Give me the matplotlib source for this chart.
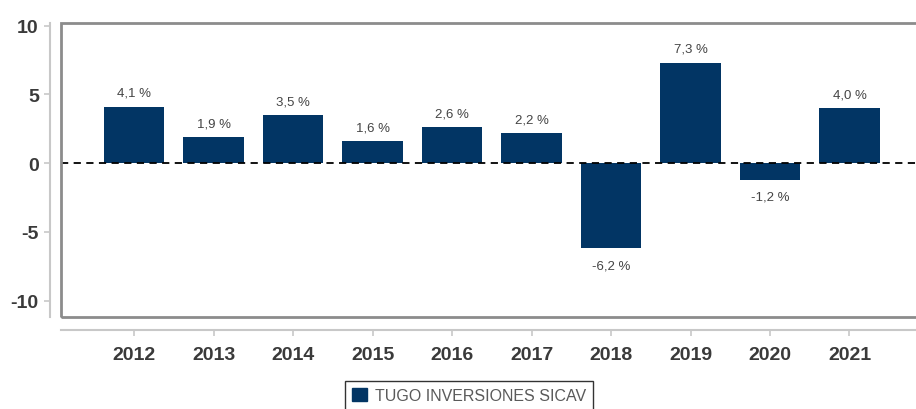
import matplotlib.pyplot as plt
from matplotlib.patches import Rectangle, Patch

plt.rcParams['font.family'] = ['Liberation Sans', 'DejaVu Sans']
plt.rcParams['axes.unicode_minus'] = False

years = [2012, 2013, 2014, 2015, 2016, 2017, 2018, 2019, 2020, 2021]
returns = [4.1, 1.9, 3.5, 1.6, 2.6, 2.2, -6.2, 7.3, -1.2, 4.0]
labels = [f"{v:.1f} %".replace(".", ",") for v in returns]
series_name = "TUGO INVERSIONES SICAV"

W, H = 916, 410
fig = plt.figure(figsize=(W / 100, H / 100), dpi=100)
ax = fig.add_axes([61 / W, 1 - 318 / H, (916 - 61) / W + 0.002, (318 - 24) / H])

bar_c = '#023564'
ax.bar(years, returns, width=0.76, color=bar_c, zorder=2)
ax.axhline(0, color='black', ls=(0, (4, 3)), lw=1.3, zorder=3)

for x, v, s in zip(years, returns, labels):
    off = 10 if v >= 0 else -12.5
    ax.annotate(s, (x, v), xytext=(0, off), textcoords='offset points',
                ha='center', va='center', fontsize=9.5, color='#444444')

ax.set_xlim(2011.08, 2021.86)
ax.set_ylim(-11.2, 10.2)
ax.set_yticks([-10, -5, 0, 5, 10])
ax.set_xticks(years)

# inner frame
ax.add_patch(Rectangle((0, 0), 1, 1, transform=ax.transAxes, fill=False,
                       ec='#8c8c8c', lw=2, clip_on=False, zorder=4))

for side in ('top', 'right'):
    ax.spines[side].set_visible(False)
ax.spines['left'].set_position(('outward', 8))
ax.spines['bottom'].set_position(('outward', 9))
for side in ('left', 'bottom'):
    ax.spines[side].set_color('#c8c8c8')
    ax.spines[side].set_linewidth(1.5)
ax.tick_params(colors='#c8c8c8', length=4, width=1.2, labelcolor='#3a3a3a')
for t in ax.get_xticklabels() + ax.get_yticklabels():
    t.set_fontsize(14)
    t.set_fontweight('bold')
ax.tick_params(axis='x', pad=8)
ax.tick_params(axis='y', pad=4)

leg = fig.legend(handles=[Patch(color=bar_c, label=series_name)],
                 loc='upper left', bbox_to_anchor=(345 / W, 1 - 382 / H),
                 frameon=True, fancybox=False, fontsize=11.5, handlelength=0.9,
                 handleheight=0.9, handletextpad=0.5, borderpad=0.45,
                 borderaxespad=0)
leg.get_frame().set_edgecolor('black')
leg.get_frame().set_linewidth(1)
for t in leg.get_texts():
    t.set_color('#5a5a5a')

fig.savefig('out.png', dpi=100)
